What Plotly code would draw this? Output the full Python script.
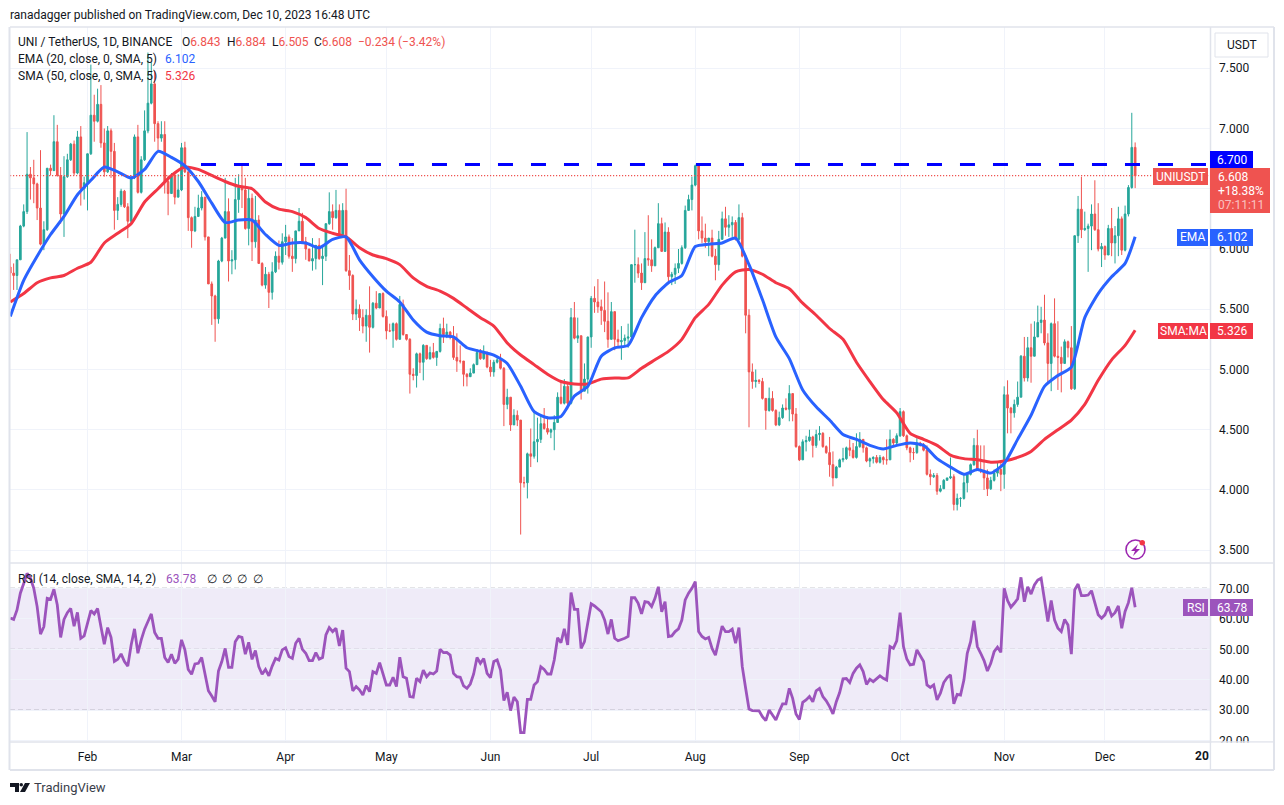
"""UNI / TetherUS daily chart with EMA, SMA and RSI panes."""

import pandas as pd
import plotly.graph_objects as go

W, H = 1284, 805
FONT = "Roboto"
INK = "#131722"
FRAME = "#e0e3eb"
GRID = "#f0f3fa"
TEAL = "#26a69a"
RED = "#ef5350"
BLUE = "#2962ff"
SMA_RED = "#f23645"
PURPLE = "#9c54bc"

FIRST_DAY = "2023-01-09"

closes = [
    5.80, 5.78, 5.91, 6.19, 6.31, 6.62, 6.59, 6.54, 6.34, 6.04,
    6.16, 6.67, 6.65, 6.89, 6.61, 6.29, 6.60, 6.74, 6.87, 6.63,
    6.93, 6.50, 6.55, 6.79, 7.11, 7.06, 7.20, 6.88, 6.64, 6.98,
    6.81, 6.32, 6.37, 6.48, 6.35, 6.23, 6.59, 6.93, 6.47, 6.74,
    6.98, 7.21, 7.37, 7.04, 6.92, 6.95, 6.56, 6.46, 6.61, 6.43,
    6.49, 6.84, 6.64, 6.26, 6.15, 6.27, 6.34, 6.43, 6.10, 5.71,
    5.61, 5.42, 5.90, 6.09, 6.31, 5.90, 5.91, 6.41, 6.51, 6.49,
    6.17, 6.42, 6.06, 6.24, 5.88, 5.70, 5.79, 5.64, 5.81, 5.94,
    5.89, 6.06, 6.10, 5.94, 5.92, 6.15, 6.23, 6.06, 6.00, 5.90,
    5.92, 6.03, 5.92, 5.94, 6.21, 6.31, 6.26, 6.32, 6.12, 6.32,
    5.82, 5.78, 5.46, 5.50, 5.43, 5.36, 5.45, 5.35, 5.55, 5.51,
    5.63, 5.44, 5.32, 5.32, 5.38, 5.25, 5.54, 5.29, 5.25, 4.96,
    4.95, 5.13, 5.06, 5.20, 5.09, 5.14, 5.10, 5.15, 5.34, 5.29,
    5.31, 5.27, 5.10, 5.07, 5.07, 4.96, 4.94, 4.97, 5.04, 5.14,
    5.09, 5.14, 5.02, 4.98, 5.06, 5.08, 5.01, 4.71, 4.77, 4.54,
    4.62, 4.58, 4.06, 4.06, 4.30, 4.28, 4.40, 4.42, 4.55, 4.51,
    4.48, 4.50, 4.56, 4.77, 4.72, 4.86, 4.72, 5.43, 5.26, 5.28,
    4.82, 4.92, 5.27, 5.59, 5.56, 5.52, 5.49, 5.40, 5.25, 5.48,
    5.25, 5.23, 5.24, 5.26, 5.27, 5.87, 5.87, 5.80, 5.72, 5.92,
    5.91, 5.86, 6.01, 6.21, 5.98, 6.14, 5.77, 5.79, 5.84, 5.88,
    6.01, 6.32, 6.41, 6.53, 6.69, 6.15, 6.09, 6.06, 6.09, 5.94,
    5.87, 6.08, 6.25, 6.18, 6.20, 6.22, 6.08, 6.26, 5.94, 5.45,
    4.98, 4.90, 4.91, 4.90, 4.76, 4.66, 4.76, 4.66, 4.54, 4.60,
    4.68, 4.67, 4.80, 4.63, 4.36, 4.25, 4.40, 4.41, 4.44, 4.37,
    4.46, 4.47, 4.36, 4.31, 4.21, 4.10, 4.19, 4.25, 4.26, 4.35,
    4.33, 4.27, 4.36, 4.42, 4.35, 4.24, 4.26, 4.27, 4.23, 4.27,
    4.25, 4.25, 4.42, 4.39, 4.45, 4.65, 4.45, 4.35, 4.31, 4.31,
    4.39, 4.37, 4.33, 4.13, 4.11, 4.12, 3.99, 4.01, 4.08, 4.10,
    4.11, 3.88, 3.93, 3.93, 4.06, 4.13, 4.21, 4.37, 4.17, 4.16,
    4.10, 4.01, 4.08, 4.14, 4.17, 4.13, 4.79, 4.68, 4.64, 4.71,
    4.77, 5.11, 4.93, 5.18, 5.11, 5.27, 5.39, 5.41, 5.22, 5.05,
    5.38, 5.11, 5.10, 5.05, 5.23, 5.18, 4.84, 6.11, 6.33, 6.16,
    6.17, 6.19, 6.29, 6.16, 6.00, 6.02, 5.95, 6.17, 6.05, 6.11,
    6.25, 5.99, 6.29, 6.51, 6.843, 6.608,
]
highs = [
    5.96, 5.88, 5.91, 6.20, 6.37, 6.97, 6.68, 6.74, 6.55, 6.82,
    6.23, 6.67, 6.70, 7.11, 7.03, 6.68, 6.77, 6.79, 6.88, 6.90,
    6.98, 7.02, 6.60, 6.79, 7.53, 7.28, 7.33, 7.36, 7.00, 7.02,
    7.00, 6.88, 6.43, 6.50, 6.49, 6.38, 6.61, 6.95, 7.03, 6.77,
    7.15, 7.63, 7.55, 7.48, 7.06, 7.06, 7.06, 6.61, 6.63, 6.64,
    6.62, 6.88, 6.89, 6.64, 6.27, 6.35, 6.45, 6.48, 6.43, 6.10,
    5.73, 5.62, 5.91, 6.10, 6.59, 6.42, 5.99, 6.59, 6.62, 6.71,
    6.59, 6.50, 6.46, 6.44, 6.28, 5.89, 5.85, 5.81, 5.89, 5.98,
    6.07, 6.13, 6.20, 6.12, 6.09, 6.15, 6.34, 6.30, 6.10, 6.00,
    6.09, 6.03, 6.09, 6.03, 6.21, 6.47, 6.37, 6.49, 6.37, 6.38,
    6.50, 5.95, 5.79, 5.58, 5.54, 5.50, 5.50, 5.69, 5.56, 5.65,
    5.63, 5.64, 5.49, 5.38, 5.39, 5.39, 5.61, 5.58, 5.29, 5.26,
    5.01, 5.14, 5.14, 5.21, 5.20, 5.19, 5.22, 5.15, 5.38, 5.43,
    5.38, 5.32, 5.36, 5.30, 5.20, 5.07, 4.97, 5.01, 5.05, 5.17,
    5.17, 5.20, 5.15, 5.08, 5.08, 5.11, 5.13, 5.02, 4.84, 4.77,
    4.67, 4.66, 4.58, 4.11, 4.31, 4.51, 4.65, 4.60, 4.62, 4.68,
    4.61, 4.51, 4.62, 4.81, 4.89, 4.92, 4.89, 5.51, 5.56, 5.43,
    5.28, 5.05, 5.27, 5.61, 5.69, 5.75, 5.58, 5.73, 5.64, 5.56,
    5.48, 5.33, 5.36, 5.29, 5.38, 5.87, 6.16, 5.93, 5.88, 6.14,
    6.28, 6.08, 6.02, 6.38, 6.26, 6.22, 6.18, 5.81, 5.88, 6.00,
    6.03, 6.36, 6.45, 6.60, 6.70, 6.70, 6.27, 6.21, 6.09, 6.16,
    6.00, 6.15, 6.31, 6.35, 6.28, 6.27, 6.24, 6.37, 6.30, 5.95,
    5.50, 5.05, 5.00, 4.92, 4.93, 4.76, 4.85, 4.82, 4.67, 4.65,
    4.71, 4.76, 4.87, 4.80, 4.68, 4.37, 4.42, 4.45, 4.50, 4.45,
    4.50, 4.53, 4.48, 4.37, 4.44, 4.32, 4.20, 4.26, 4.35, 4.36,
    4.42, 4.39, 4.47, 4.48, 4.42, 4.36, 4.27, 4.28, 4.29, 4.29,
    4.28, 4.42, 4.50, 4.43, 4.47, 4.68, 4.66, 4.46, 4.36, 4.35,
    4.43, 4.40, 4.39, 4.37, 4.17, 4.14, 4.14, 4.04, 4.09, 4.10,
    4.27, 4.13, 3.97, 3.94, 4.13, 4.14, 4.22, 4.43, 4.50, 4.37,
    4.37, 4.17, 4.11, 4.17, 4.23, 4.24, 4.86, 4.91, 4.69, 4.75,
    4.90, 5.12, 5.27, 5.27, 5.38, 5.40, 5.53, 5.52, 5.62, 5.30,
    5.39, 5.59, 5.40, 5.19, 5.25, 5.24, 5.36, 6.11, 6.44, 6.60,
    6.31, 6.21, 6.37, 6.57, 6.38, 6.05, 6.03, 6.20, 6.34, 6.19,
    6.35, 6.27, 6.36, 6.53, 7.13, 6.884,
]
lows = [
    5.58, 5.66, 5.66, 5.91, 6.18, 6.29, 6.41, 6.38, 6.24, 6.03,
    5.99, 6.15, 6.61, 6.65, 6.60, 6.21, 6.10, 6.59, 6.73, 6.61,
    6.62, 6.36, 6.41, 6.32, 6.78, 6.89, 7.05, 6.84, 6.60, 6.63,
    6.59, 6.16, 6.24, 6.35, 6.34, 6.09, 6.21, 6.58, 6.46, 6.46,
    6.73, 6.96, 7.20, 6.89, 6.82, 6.89, 6.46, 6.28, 6.46, 6.37,
    6.43, 6.48, 6.63, 6.15, 6.01, 6.14, 6.27, 6.32, 6.07, 5.71,
    5.37, 5.23, 5.38, 5.89, 6.09, 5.73, 5.79, 5.83, 6.30, 6.34,
    6.16, 6.03, 5.90, 6.01, 5.88, 5.69, 5.67, 5.51, 5.58, 5.80,
    5.83, 5.87, 5.95, 5.92, 5.81, 5.88, 6.15, 6.05, 5.91, 5.90,
    5.82, 5.83, 5.91, 5.70, 5.90, 6.20, 6.16, 6.25, 6.10, 6.10,
    5.81, 5.66, 5.41, 5.41, 5.32, 5.30, 5.23, 5.14, 5.34, 5.50,
    5.51, 5.43, 5.25, 5.31, 5.18, 5.24, 5.25, 5.28, 5.24, 4.80,
    4.91, 4.85, 4.97, 4.91, 5.08, 5.08, 5.09, 5.03, 5.14, 5.22,
    5.26, 5.25, 5.08, 4.98, 5.05, 4.86, 4.86, 4.94, 4.97, 5.04,
    5.08, 5.08, 5.01, 4.94, 4.94, 5.05, 5.00, 4.53, 4.67, 4.49,
    4.54, 4.53, 3.63, 4.02, 3.93, 4.19, 4.26, 4.23, 4.39, 4.50,
    4.46, 4.43, 4.33, 4.56, 4.71, 4.71, 4.67, 4.71, 5.25, 5.22,
    4.75, 4.82, 4.80, 5.18, 5.47, 5.47, 5.37, 5.31, 5.18, 5.25,
    5.16, 5.18, 5.08, 5.19, 5.18, 5.25, 5.72, 5.76, 5.66, 5.72,
    5.86, 5.81, 5.86, 6.01, 5.98, 5.98, 5.72, 5.70, 5.71, 5.80,
    5.87, 6.00, 6.32, 6.32, 6.52, 6.08, 6.05, 6.01, 5.94, 5.93,
    5.74, 5.82, 6.08, 6.11, 6.10, 6.10, 6.07, 6.07, 5.93, 5.30,
    4.52, 4.84, 4.85, 4.88, 4.75, 4.50, 4.65, 4.65, 4.53, 4.53,
    4.59, 4.66, 4.57, 4.57, 4.35, 4.24, 4.25, 4.32, 4.40, 4.27,
    4.35, 4.41, 4.35, 4.30, 4.11, 4.03, 4.10, 4.19, 4.23, 4.25,
    4.28, 4.26, 4.26, 4.35, 4.31, 4.23, 4.19, 4.22, 4.22, 4.22,
    4.21, 4.21, 4.25, 4.37, 4.38, 4.44, 4.44, 4.33, 4.23, 4.25,
    4.30, 4.36, 4.32, 4.12, 4.04, 4.10, 3.96, 3.98, 4.01, 4.08,
    4.09, 3.83, 3.83, 3.86, 3.92, 3.98, 4.12, 4.20, 4.16, 4.14,
    4.00, 3.95, 4.00, 4.07, 4.11, 3.99, 4.01, 4.47, 4.47, 4.60,
    4.69, 4.77, 4.90, 4.90, 4.89, 5.11, 5.27, 5.30, 5.20, 4.89,
    4.82, 5.10, 4.83, 4.81, 5.05, 5.10, 4.83, 4.83, 6.05, 6.09,
    6.15, 5.81, 5.99, 6.15, 5.98, 5.85, 5.91, 5.95, 5.94, 5.88,
    5.94, 5.95, 5.98, 6.27, 6.50, 6.505,
]
opens = [5.85] + closes[:-1]

# moving averages read every fourth candle, plus the last one
ma_steps = list(range(0, 333, 4)) + [335]
ema_values = [
    5.44, 5.74, 5.94, 6.12, 6.27, 6.45, 6.57, 6.68, 6.64, 6.59, 6.66, 6.81,
    6.76, 6.69, 6.56, 6.38, 6.22, 6.24, 6.24, 6.12, 6.03, 6.05, 6.05, 6.01,
    6.08, 6.10, 5.91, 5.77, 5.65, 5.56, 5.41, 5.31, 5.28, 5.27, 5.18, 5.15,
    5.12, 5.05, 4.86, 4.65, 4.60, 4.61, 4.78, 4.86, 5.11, 5.18, 5.20, 5.43,
    5.61, 5.72, 5.78, 6.02, 6.04, 6.05, 6.09, 5.87, 5.58, 5.27, 5.09, 4.83,
    4.69, 4.58, 4.46, 4.42, 4.37, 4.34, 4.37, 4.39, 4.37, 4.26, 4.19, 4.13,
    4.17, 4.14, 4.22, 4.42, 4.62, 4.86, 4.95, 5.02, 5.43, 5.63, 5.77, 5.88,
    6.102,
]
sma_values = [
    5.56, 5.63, 5.72, 5.76, 5.78, 5.84, 5.89, 6.05, 6.13, 6.21, 6.39, 6.50,
    6.61, 6.68, 6.66, 6.61, 6.56, 6.52, 6.50, 6.39, 6.33, 6.31, 6.26, 6.17,
    6.13, 6.10, 6.01, 5.95, 5.92, 5.87, 5.76, 5.69, 5.65, 5.59, 5.51, 5.43,
    5.36, 5.22, 5.12, 5.04, 4.96, 4.90, 4.88, 4.88, 4.92, 4.93, 4.93, 5.01,
    5.08, 5.15, 5.25, 5.43, 5.54, 5.70, 5.81, 5.83, 5.79, 5.72, 5.67, 5.55,
    5.45, 5.34, 5.25, 5.06, 4.90, 4.75, 4.64, 4.47, 4.42, 4.37, 4.29, 4.26,
    4.25, 4.23, 4.24, 4.27, 4.32, 4.42, 4.50, 4.58, 4.71, 4.91, 5.08, 5.20,
    5.326,
]

rsi_values = [
    60.2, 59.8, 62.9, 68.4, 71.6, 74.9, 73.3, 70.0, 64.0, 55.0,
    57.4, 66.7, 66.4, 69.7, 64.5, 53.9, 59.8, 62.0, 63.4, 57.6,
    62.1, 53.6, 54.4, 58.5, 62.7, 61.6, 63.4, 57.4, 51.7, 57.1,
    53.9, 46.0, 46.7, 48.5, 46.0, 44.5, 51.4, 56.7, 48.7, 53.1,
    56.6, 59.1, 61.6, 55.5, 53.6, 53.6, 47.3, 45.7, 48.4, 45.4,
    46.8, 53.1, 49.8, 43.4, 41.8, 45.2, 45.4, 47.3, 42.1, 36.4,
    34.7, 32.8, 42.9, 46.0, 50.3, 44.1, 44.1, 52.5, 54.2, 53.9,
    48.4, 52.3, 46.7, 49.6, 44.3, 41.8, 43.4, 41.3, 44.5, 47.0,
    46.5, 49.8, 50.5, 47.6, 47.0, 52.0, 53.6, 50.0, 48.7, 46.3,
    46.3, 48.9, 46.8, 47.3, 54.7, 57.1, 55.8, 56.9, 51.1, 56.3,
    43.8, 42.7, 36.4, 37.8, 36.7, 35.0, 38.1, 36.1, 42.7, 42.1,
    45.6, 41.6, 38.3, 38.3, 40.8, 37.8, 47.4, 41.0, 40.5, 34.5,
    34.3, 40.5, 39.4, 43.2, 41.0, 42.3, 41.9, 42.9, 50.0, 48.9,
    49.0, 48.1, 42.1, 41.0, 40.8, 38.0, 37.2, 38.6, 41.9, 47.3,
    45.4, 47.0, 42.1, 40.7, 46.0, 46.5, 43.2, 33.2, 35.9, 29.9,
    34.3, 32.8, 22.7, 22.7, 33.6, 33.6, 38.3, 39.4, 44.3, 43.4,
    41.9, 41.9, 46.5, 53.8, 52.2, 56.7, 51.4, 68.6, 63.1, 63.1,
    50.3, 52.5, 59.1, 64.9, 64.2, 63.1, 62.3, 59.6, 55.0, 59.8,
    53.6, 52.8, 53.1, 53.6, 54.2, 66.9, 66.9, 65.1, 61.6, 65.6,
    65.4, 64.0, 66.7, 70.5, 62.3, 65.6, 54.2, 54.4, 55.8, 56.7,
    59.6, 66.2, 68.4, 70.0, 72.2, 55.8, 54.2, 53.4, 53.9, 50.3,
    48.1, 53.1, 57.6, 55.8, 55.8, 56.6, 52.0, 57.1, 44.3, 37.2,
    30.4, 29.9, 29.8, 29.8, 27.9, 26.6, 30.1, 28.5, 26.8, 29.6,
    32.1, 32.1, 37.2, 33.9, 28.8, 27.0, 32.6, 33.4, 34.5, 32.8,
    36.4, 37.2, 34.5, 33.1, 31.2, 28.8, 32.8, 35.8, 40.3, 40.4,
    39.1, 42.1, 43.8, 44.9, 42.7, 38.5, 40.2, 39.4, 40.5, 41.3,
    40.5, 39.9, 50.9, 50.3, 52.8, 62.0, 50.9, 46.8, 44.9, 45.1,
    49.8, 48.1, 46.0, 38.3, 37.5, 38.3, 33.4, 35.6, 39.1, 40.7,
    41.6, 32.1, 35.2, 35.0, 39.9, 48.7, 52.5, 59.4, 50.9, 48.7,
    46.3, 42.9, 45.4, 49.2, 50.7, 49.0, 70.0, 66.0, 63.8, 65.1,
    66.5, 73.6, 65.6, 70.5, 68.1, 71.1, 72.7, 73.3, 66.7, 59.1,
    66.0, 59.6, 56.9, 55.8, 59.8, 58.0, 48.4, 69.5, 71.4, 67.6,
    67.6, 67.8, 69.2, 64.9, 61.3, 60.2, 61.3, 64.0, 60.9, 62.0,
    64.2, 56.9, 62.4, 65.3, 70.2, 63.78,
]

price_ticks = [3.5, 4.0, 4.5, 5.0, 5.5, 6.0, 6.5, 7.0, 7.5]
# 6.500 sits behind the last price tag, so only its grid line shows
price_labels = ["3.500", "4.000", "4.500", "5.000", "5.500", "6.000", "", "7.000", "7.500"]
rsi_ticks = [20, 30, 40, 50, 60, 70]
month_ticks = ["2023-02-01", "2023-03-01", "2023-04-01", "2023-05-01", "2023-06-01", "2023-07-01",
               "2023-08-01", "2023-09-01", "2023-10-01", "2023-11-01", "2023-12-01"]
month_labels = ["Feb", "Mar", "Apr", "May", "Jun", "Jul", "Aug", "Sep", "Oct", "Nov", "Dec"]
resistance = 6.7
last_close = 6.608

dates = pd.date_range(FIRST_DAY, periods=len(closes), freq="D")
assert len(closes) == len(highs) == len(lows) == len(rsi_values) == 336, (
    len(closes), len(highs), len(lows), len(rsi_values))
assert len(ema_values) == len(sma_values) == len(ma_steps), (len(ema_values), len(sma_values), len(ma_steps))
ma_dates = [dates[i] for i in ma_steps]


def px(x):
    return x / W


def py(y):
    return 1 - y / H


shapes = []
annotations = []


def box(x0, y0, x1, y1, fill=None, line=None, width=1, layer="above"):
    shapes.append(dict(
        type="rect", xref="paper", yref="paper", x0=px(x0), x1=px(x1), y0=py(y0), y1=py(y1),
        fillcolor=fill or "rgba(0,0,0,0)", line=dict(color=line or "rgba(0,0,0,0)", width=width if line else 0),
        layer=layer,
    ))


def rule(x0, y0, x1, y1, color=FRAME, width=1, dash="solid"):
    shapes.append(dict(
        type="line", xref="paper", yref="paper", x0=px(x0), x1=px(x1), y0=py(y0), y1=py(y1),
        line=dict(color=color, width=width, dash=dash), layer="above",
    ))


def label(x, y, text, color=INK, size=12, anchor="left"):
    annotations.append(dict(
        xref="paper", yref="paper", x=px(x - 2 if anchor == "left" else x), y=py(y), text=text, showarrow=False,
        xanchor=anchor, yanchor="middle", font=dict(family=FONT, size=size, color=color),
    ))


fig = go.Figure()

fig.add_trace(go.Candlestick(
    x=dates, open=opens, high=highs, low=lows, close=closes,
    increasing=dict(line=dict(color=TEAL, width=1), fillcolor=TEAL),
    decreasing=dict(line=dict(color=RED, width=1), fillcolor=RED),
    whiskerwidth=0, xaxis="x", yaxis="y", showlegend=False,
))
fig.add_trace(go.Scatter(
    x=ma_dates, y=sma_values, mode="lines", xaxis="x", yaxis="y", showlegend=False,
    line=dict(color=SMA_RED, width=3, shape="spline", smoothing=0.6),
))
fig.add_trace(go.Scatter(
    x=ma_dates, y=ema_values, mode="lines", xaxis="x", yaxis="y", showlegend=False,
    line=dict(color=BLUE, width=3, shape="spline", smoothing=0.6),
))
fig.add_trace(go.Scatter(
    x=["2023-03-06 19:00", "2024-01-01 07:00"], y=[resistance, resistance], mode="lines",
    xaxis="x", yaxis="y", showlegend=False,
    line=dict(color="#0000ff", width=3, dash="15px,18px"),
))
fig.add_trace(go.Scatter(
    x=dates, y=rsi_values, mode="lines", xaxis="x2", yaxis="y2", showlegend=False,
    line=dict(color=PURPLE, width=2.8),
))

# last price level and RSI band
shapes.append(dict(
    type="line", xref="x", yref="y", x0="2023-01-08 22:00", x1="2024-01-01 07:00", y0=last_close, y1=last_close,
    line=dict(color=RED, width=1.2, dash="1.2px,1.8px"), layer="above",
))
shapes.append(dict(
    type="rect", xref="paper", yref="y2", x0=px(10), x1=px(1210), y0=30, y1=70,
    fillcolor="rgba(126,87,194,0.12)", line=dict(width=0), layer="below",
))
for level, color in [(70, "#787b86"), (50, "#a9abb3"), (30, "#787b86")]:
    shapes.append(dict(
        type="line", xref="paper", yref="y2", x0=px(10), x1=px(1210), y0=level, y1=level,
        line=dict(color=color, width=1, dash="5px,3px"), layer="below",
    ))

# chart frame
box(0, 0, W, 27, fill="white", layer="below")
rule(10, 27, 1274, 27, width=1.5)
rule(9.5, 27, 9.5, 770, width=2)
rule(10, 563, 1274, 563, width=1.5)
rule(10, 742, 1274, 742, width=1.5)
rule(10, 770, 1274, 770, width=2)
rule(1210.5, 27, 1210.5, 770, width=1.5)
box(1211.5, 742.8, 1273, 769, fill="white")
rule(1274, 27, 1274, 770, width=2)

# USDT button
box(1215, 33, 1268, 57, fill="white", line=FRAME)
label(1241.5, 45, "USDT", size=12, anchor="center")

# header text
label(10, 15, "ranadagger published on TradingView.com, Dec 10, 2023 16:48 UTC", size=12)
label(18, 42, "UNI / TetherUS, 1D, BINANCE", size=12)
for x, letter, value in [(182, "O", "6.843"), (227, "H", "6.884"), (272, "L", "6.505"), (314, "C", "6.608")]:
    label(x, 42, f"{letter}<span style='color:{RED}'>{value}</span>", size=12)
label(358, 42, "−0.234 (−3.42%)", color=RED, size=12)
label(18, 59, "EMA (20, close, 0, SMA, 5)", size=12)
label(165, 59, "6.102", color=BLUE, size=12)
label(18, 76, "SMA (50, close, 0, SMA, 5)", size=12)
label(165, 76, "5.326", color=SMA_RED, size=12)
label(18, 579, "RSI (14, close, SMA, 14, 2)", size=12)
label(166, 579, "63.78", color=PURPLE, size=12)
for x in [207, 222, 237, 253]:
    label(x, 579, "∅", size=12)

# price scale tags
box(1210, 151, 1253, 168, fill="#0000ff")
label(1231.5, 159.5, "6.700", color="white", size=12, anchor="center")
box(1210, 168, 1270, 213, fill=RED)
box(1153, 168, 1208, 185, fill=RED)
label(1180.5, 176.5, "UNIUSDT", color="white", size=12, anchor="center")
label(1218, 176.5, "6.608", color="white", size=12)
label(1218, 190.5, "+18.38%", color="white", size=12)
label(1218, 204.5, "07:11:11", color="rgba(255,255,255,0.65)", size=12)
box(1177, 229, 1208, 246, fill=BLUE)
box(1210, 229, 1253, 246, fill=BLUE)
label(1192.5, 237.5, "EMA", color="white", size=12, anchor="center")
label(1231.5, 237.5, "6.102", color="white", size=12, anchor="center")
box(1158, 323, 1208, 339, fill=SMA_RED)
box(1210, 323, 1253, 339, fill=SMA_RED)
label(1183, 331, "SMA:MA", color="white", size=12, anchor="center")
label(1231.5, 331, "5.326", color="white", size=12, anchor="center")
box(1183, 599, 1208, 616, fill=PURPLE)
box(1210, 599, 1253, 616, fill=PURPLE)
label(1195.5, 607.5, "RSI", color="white", size=12, anchor="center")
label(1231.5, 607.5, "63.78", color="white", size=12, anchor="center")

# future tick on the time axis
annotations.append(dict(
    xref="x2", yref="paper", x="2023-12-30", y=py(756), text="<b>20</b>", showarrow=False,
    xanchor="center", yanchor="middle", font=dict(family=FONT, size=12, color=INK),
))

# alert icon
shapes.append(dict(
    type="circle", xref="paper", yref="paper", x0=px(1126), x1=px(1145), y0=py(540), y1=py(559),
    line=dict(color="#9c27b0", width=1.6), layer="above",
))
shapes.append(dict(
    type="path", xref="paper", yref="paper", layer="above", fillcolor="#9c27b0", line=dict(width=0),
    path=f"M {px(1138)} {py(544)} L {px(1131)} {py(551)} L {px(1135)} {py(551)} L {px(1133)} {py(556)} "
         f"L {px(1140)} {py(549)} L {px(1136)} {py(549)} Z",
))
shapes.append(dict(
    type="circle", xref="paper", yref="paper", x0=px(1139.5), x1=px(1145), y0=py(540), y1=py(545.5),
    fillcolor="#f23645", line=dict(width=0), layer="above",
))

# TradingView mark and name
shapes.append(dict(
    type="path", xref="paper", yref="paper", layer="above", fillcolor=INK, line=dict(width=0),
    path=f"M {px(10)} {py(783)} L {px(19)} {py(783)} L {px(19)} {py(792)} L {px(15)} {py(792)} "
         f"L {px(15)} {py(787)} L {px(10)} {py(787)} Z",
))
shapes.append(dict(
    type="circle", xref="paper", yref="paper", x0=px(19.5), x1=px(23), y0=py(783), y1=py(786.5),
    fillcolor=INK, line=dict(width=0), layer="above",
))
shapes.append(dict(
    type="path", xref="paper", yref="paper", layer="above", fillcolor=INK, line=dict(width=0),
    path=f"M {px(25)} {py(783)} L {px(30)} {py(783)} L {px(25)} {py(792)} L {px(20)} {py(792)} Z",
))
label(34, 787.5, "TradingView", color="#3a3e4a", size=13)

x_range = ["2023-01-08 22:00", "2024-01-01 07:00"]
x_common = dict(
    range=x_range, type="date", tickmode="array", tickvals=month_ticks, ticktext=month_labels,
    showgrid=True, gridcolor=GRID, gridwidth=1, zeroline=False, showline=False, ticks="",
    rangeslider=dict(visible=False), fixedrange=True,
)
fig.update_layout(
    width=W, height=H, margin=dict(l=0, r=0, t=0, b=0, autoexpand=False), paper_bgcolor="white", plot_bgcolor="white",
    font=dict(family=FONT, size=12, color=INK), showlegend=False,
    xaxis=dict(domain=[px(10), px(1210)], anchor="y", showticklabels=False, **x_common),
    xaxis2=dict(domain=[px(10), px(1210)], anchor="y2", showticklabels=True, matches="x",
                tickfont=dict(family=FONT, size=12, color=INK), ticklabelstandoff=6, **x_common),
    yaxis=dict(
        domain=[py(563), py(27)], anchor="x", side="right", range=[3.394, 7.842],
        tickmode="array", tickvals=price_ticks, ticktext=price_labels, showgrid=True, gridcolor=GRID, gridwidth=1,
        zeroline=False, showline=False, ticks="", ticklabelstandoff=8,
        tickfont=dict(family=FONT, size=12, color=INK),
    ),
    yaxis2=dict(
        domain=[py(742), py(563)], anchor="x2", side="right", range=[19.6, 78.3],
        tickmode="array", tickvals=rsi_ticks, tickformat=".2f", showgrid=True, gridcolor=GRID, gridwidth=1,
        zeroline=False, showline=False, ticks="", ticklabelstandoff=8,
        tickfont=dict(family=FONT, size=12, color=INK),
    ),
    shapes=shapes, annotations=annotations,
)

fig.write_html("out.html", config=dict(displayModeBar=False),
               post_script="document.body.style.margin='0';document.body.style.overflow='hidden';")
